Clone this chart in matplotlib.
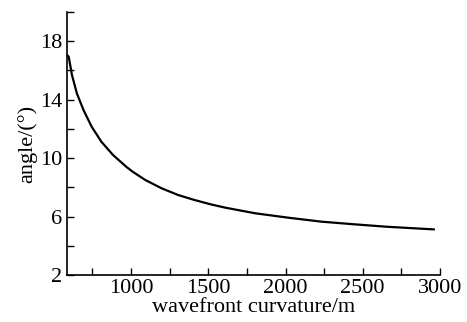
import numpy as np
import matplotlib.pyplot as plt
from matplotlib.ticker import MultipleLocator, FixedLocator

# curve
curvature = [585, 596, 617, 649, 692, 745, 808, 883, 968, 1011, 1092, 1198, 1305,
             1411, 1517, 1613, 1805, 2018, 2231, 2443, 2657, 2960]
angle = [17.05, 16.93, 15.68, 14.42, 13.28, 12.14, 11.11, 10.21, 9.41, 9.06, 8.50, 7.93, 7.47,
         7.13, 6.83, 6.60, 6.22, 5.92, 5.65, 5.47, 5.30, 5.12]

x_labels = [1000, 1500, 2000, 2500, 3000]
y_labels = [2, 6, 10, 14, 18]

plt.rcParams['font.family'] = 'Liberation Serif'
fontsize = 16

fig = plt.figure(figsize=(4.67, 3.22), dpi=100)
ax = fig.add_axes([0.1435, 0.146, 0.7985, 0.817])

ax.plot(curvature, angle, color='black', linewidth=1.6)

ax.set_xlim(585, 3000)
ax.set_ylim(2, 20)
ax.xaxis.set_major_locator(FixedLocator(x_labels))
ax.xaxis.set_minor_locator(MultipleLocator(250))
ax.yaxis.set_major_locator(FixedLocator(y_labels))
ax.yaxis.set_minor_locator(MultipleLocator(2))
ax.tick_params(which='both', direction='in', labelsize=fontsize, width=1)
ax.tick_params(which='both', length=5)
ax.tick_params(axis='x', pad=3)

for s in ['top', 'right']:
    ax.spines[s].set_visible(False)
for s in ['left', 'bottom']:
    ax.spines[s].set_linewidth(1.2)

ax.set_xlabel('wavefront curvature/m', fontsize=fontsize, labelpad=0)
ax.set_ylabel('angle/(°)', fontsize=fontsize, labelpad=2)

fig.savefig('out.png', dpi=100)
